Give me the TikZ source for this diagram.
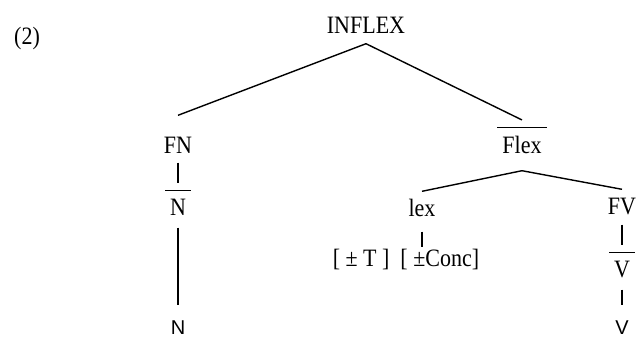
\documentclass[tikz,border=0pt]{standalone}
\usepackage{fontspec}
\setmainfont{Liberation Serif}[FakeStretch=0.88]
\setsansfont{Liberation Sans}
\usepackage{tikz}
\newcommand{\barcatg}[1]{$\overline{\mbox{\raisebox{0pt}[\dimexpr\height+2.5pt\relax]{\hspace{2.5pt}#1\hspace{2.5pt}}}}$}
\tikzset{every picture/.style={x=0.5pt,y=-0.5pt,line width=0.7pt,every node/.style={inner sep=3pt,anchor=base,font=\fontsize{12.5}{14}\selectfont}},
  cat/.style={text height=9pt,text depth=2pt},
  barcat/.style={text depth=3pt},
  leaf/.style={text height=13pt,text depth=0pt,inner sep=1pt,font=\fontsize{10}{12}\sffamily}}

\begin{document}
\begin{tikzpicture}
        \useasboundingbox (0,0) rectangle (637,338);
        \node (ex) at (27,44) {(2)};
        \node[cat] (inflex) at (366,33) {INFLEX};
        \node[cat, text height=15.5pt, text depth=1.5pt] (fn) at (178,153) {FN};
        \node[barcat] (nbar) at (178,215) {\barcatg{N}};
        \node[leaf] (n) at (178,334) {N};
        \node[barcat, text depth=5.5pt] (flex) at (522,153) {\barcatg{Flex}};
        \node[cat, text depth=4.5pt] (lex) at (422,216) {lex};
        \node[cat, text height=6pt] (feat) at (406,266) {[ ± T ] \ [ ±Conc]};
        \node[cat] (fv) at (622,214) {FV};
        \node[barcat] (vbar) at (622,277) {\barcatg{V}};
        \node[leaf] (v) at (622,334) {V};

        \foreach \from/\to in {
          inflex/fn, inflex/flex,
          fn/nbar, nbar/n,
          flex/lex, flex/fv,
          fv/vbar, vbar/v}
        \draw (\from.south) -- (\to.north);
        \draw (lex.south) -- (lex.south |- feat.north);
      \end{tikzpicture}
\end{document}
